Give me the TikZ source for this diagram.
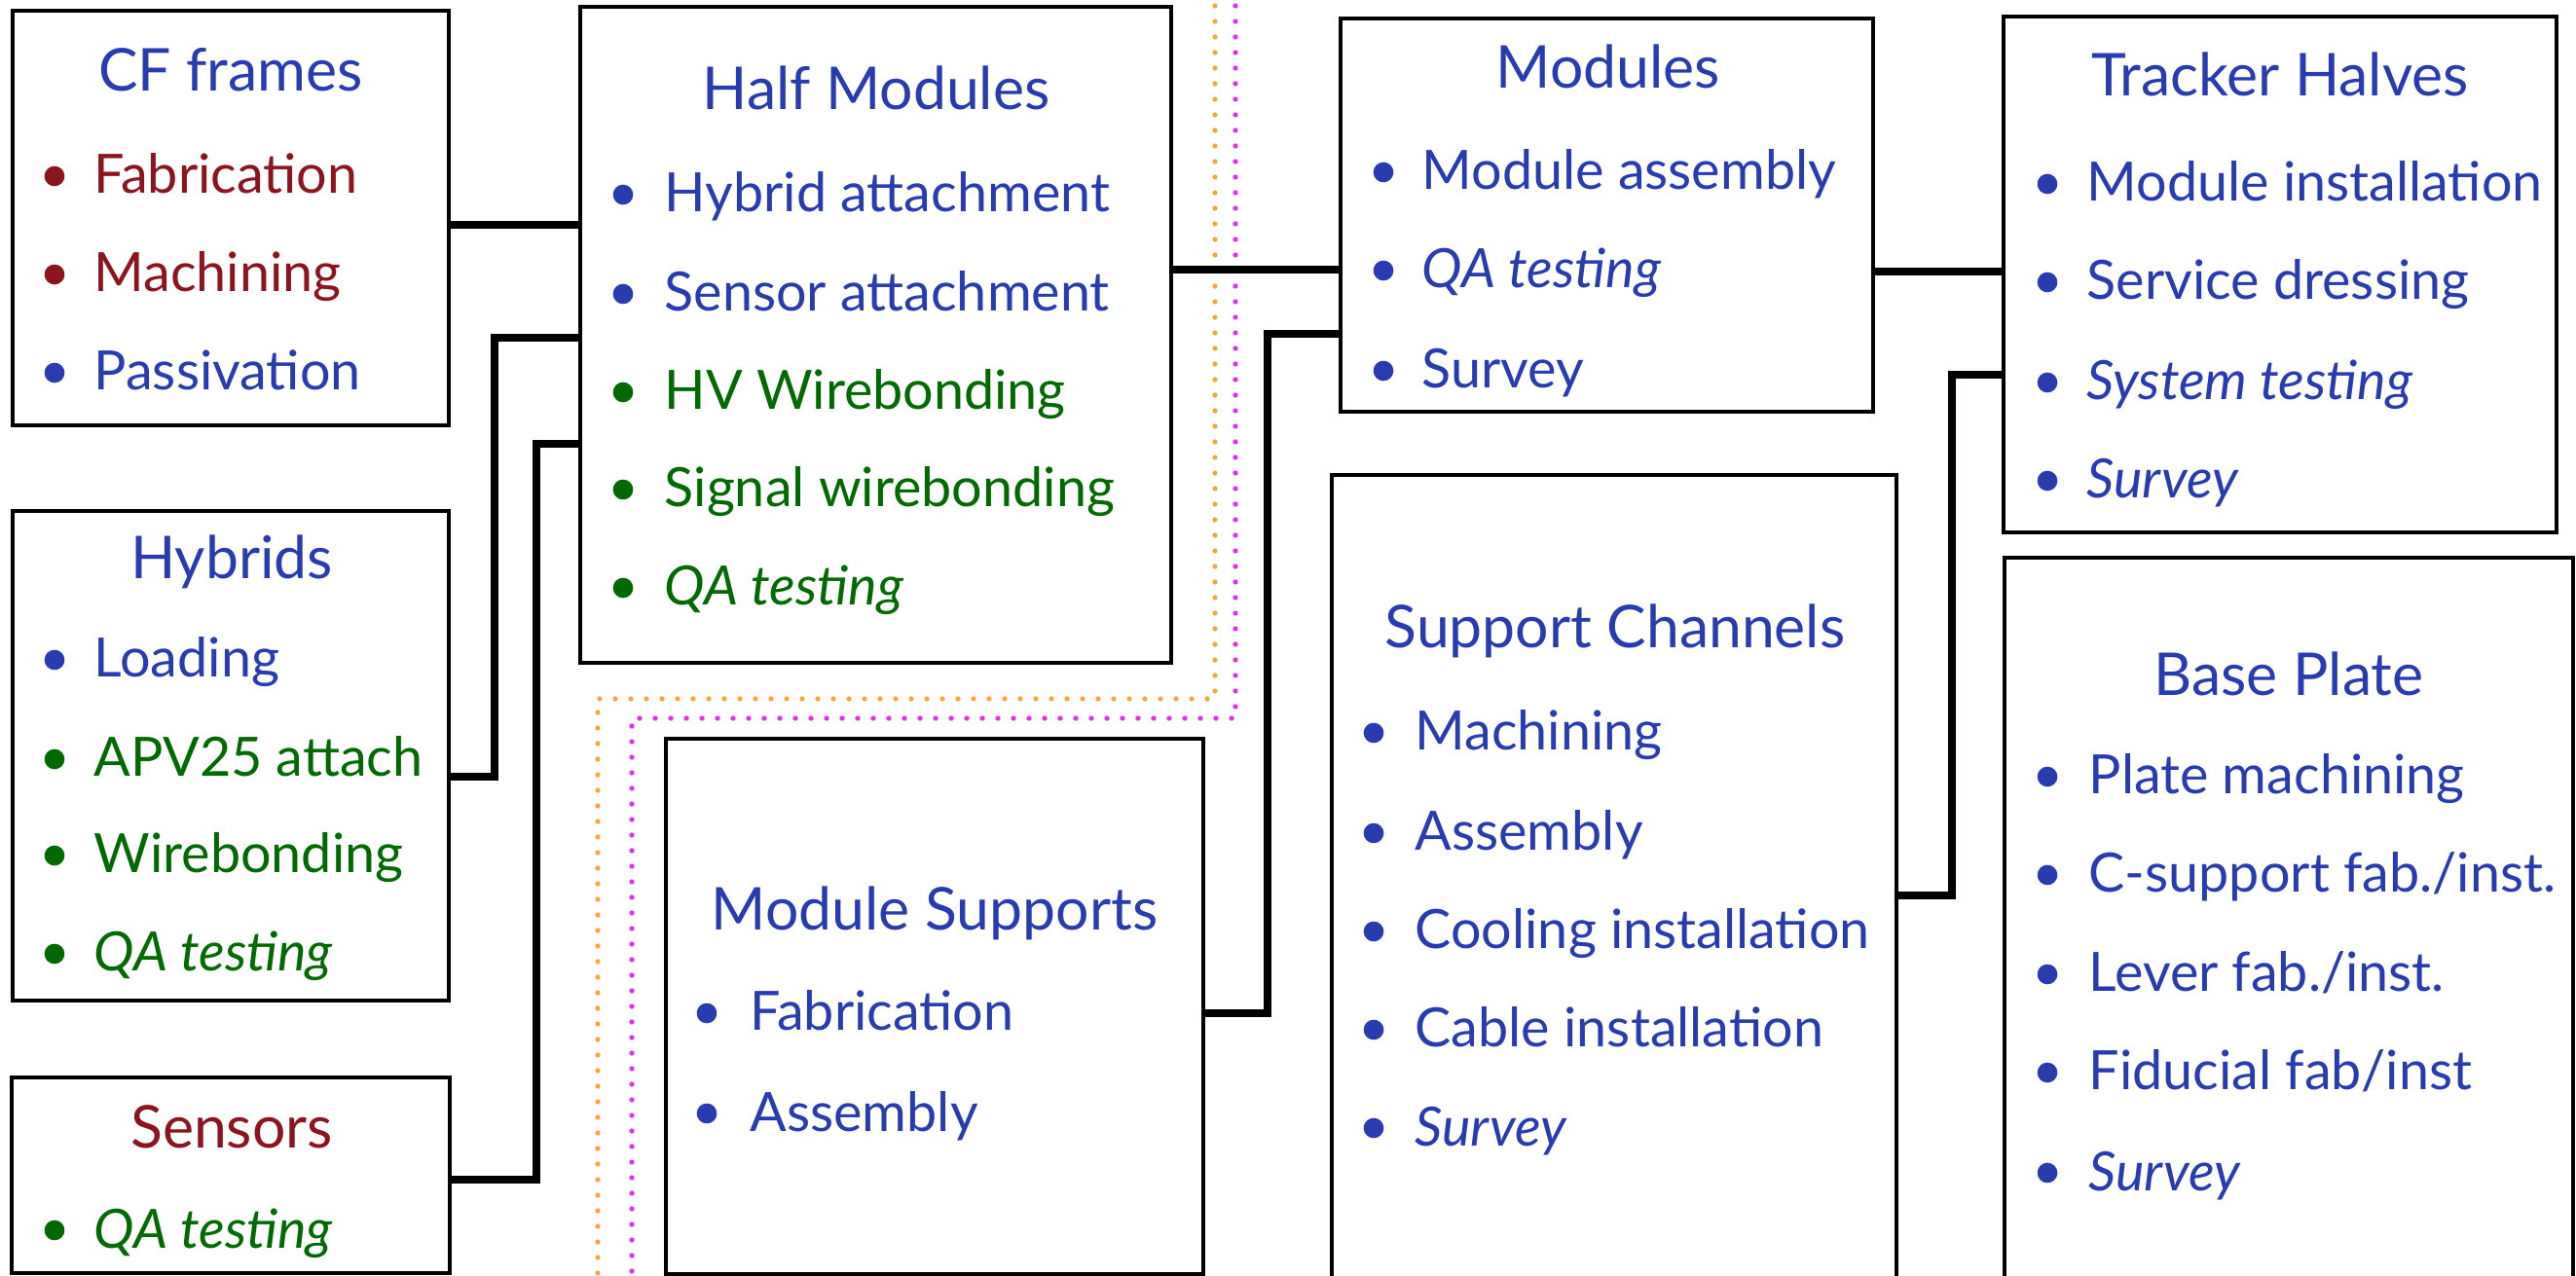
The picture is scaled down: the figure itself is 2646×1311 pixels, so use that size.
\documentclass[tikz,border=0pt]{standalone}
\usepackage{fontspec}
\setmainfont{Lato}
\usetikzlibrary{fit}
\definecolor{tblue}{RGB}{40,60,175}
\definecolor{tred}{RGB}{140,20,30}
\definecolor{tgreen}{RGB}{0,105,0}
\definecolor{dorange}{RGB}{245,166,60}
\definecolor{dmagenta}{RGB}{225,50,230}
\newcommand\bitem[6]{\fill[#5] (#2,{#4-18}) circle (3.1pt); \node[itm,text=#5] (#1) at (#3,#4) {#6};}
\begin{document}
\begin{tikzpicture}[x=0.3pt,y=-0.3pt,
 box/.style={draw=black, line width=1.4pt, inner sep=0pt},
 conn/.style={line width=2.3pt},
 ttl/.style={anchor=base, inner sep=0pt, font=\fontsize{18.2}{20}\selectfont},
 itm/.style={anchor=base west, inner sep=0pt, font=\fontsize{16.7}{19}\selectfont},
 dotline/.style={line width=1.6pt, line cap=round, dash pattern=on 0pt off 4.8pt}]
\useasboundingbox[fill=white] (0,0) rectangle (2646,1311);

% dotted boundaries
\draw[dotline, dorange] (1248,-10) -- (1248,718) -- (614,718) -- (614,1330);
\draw[dotline, dmagenta] (1269,-10) -- (1269,738) -- (649,738) -- (649,1330);

% boxes
\node[box, fit={(13,11) (461,437)}] (cf) {};
\node[box, fit={(13,525) (461,1028)}] (hyb) {};
\node[box, fit={(12,1107) (462,1308)}] (sen) {};
\node[box, fit={(596,7) (1203,681)}] (hm) {};
\node[box, fit={(1377,19) (1924,423)}] (mod) {};
\node[box, fit={(2058,17) (2626,547)}] (th) {};
\node[box, fit={(684,759) (1236,1309)}] (ms) {};
\node[box, fit={(1368,488) (1948,1340)}] (sc) {};
\node[box, fit={(2059,573) (2643,1340)}] (bp) {};

% CF frames
\node[ttl,text=tblue] (cft) at (237,94) {CF frames};
\bitem{cf1}{56}{96}{199}{tred}{Fabrication}
\bitem{cf2}{56}{96}{300}{tred}{Machining}
\bitem{cf3}{56}{96}{401}{tblue}{Passivation}

% Hybrids
\node[ttl,text=tblue] (hybt) at (238,595) {Hybrids};
\bitem{hy1}{56}{96}{696}{tblue}{Loading}
\bitem{hy2}{56}{96}{798}{tgreen}{APV25 attach}
\bitem{hy3}{56}{96}{897}{tgreen}{Wirebonding}
\bitem{hy4}{56}{96}{998}{tgreen}{\itshape QA testing}

% Sensors
\node[ttl,text=tred] (sent) at (238,1179) {Sensors};
\bitem{se1}{56}{96}{1282}{tgreen}{\itshape QA testing}

% Half Modules
\node[ttl,text=tblue] (hmt) at (900,113) {Half Modules};
\bitem{hm1}{640}{682}{218}{tblue}{Hybrid attachment}
\bitem{hm2}{640}{682}{320}{tblue}{Sensor attachment}
\bitem{hm3}{640}{682}{421}{tgreen}{HV Wirebonding}
\bitem{hm4}{640}{682}{521}{tgreen}{Signal wirebonding}
\bitem{hm5}{640}{682}{622}{tgreen}{\itshape QA testing}

% Modules
\node[ttl,text=tblue] (modt) at (1652,91) {Modules};
\bitem{mo1}{1421}{1460}{195}{tblue}{Module assembly}
\bitem{mo2}{1421}{1460}{296}{tblue}{\itshape QA testing}
\bitem{mo3}{1421}{1460}{399}{tblue}{Survey}

% Tracker Halves
\node[ttl,text=tblue] (tht) at (2342,99) {Tracker Halves};
\bitem{th1}{2103}{2143}{207}{tblue}{Module installation}
\bitem{th2}{2103}{2143}{308}{tblue}{Service dressing}
\bitem{th3}{2103}{2143}{411}{tblue}{\itshape System testing}
\bitem{th4}{2103}{2143}{512}{tblue}{\itshape Survey}

% Module Supports
\node[ttl,text=tblue] (mst) at (960,956) {Module Supports};
\bitem{ms1}{726}{770}{1059}{tblue}{Fabrication}
\bitem{ms2}{726}{770}{1162}{tblue}{Assembly}

% Support Channels
\node[ttl,text=tblue] (sct) at (1659,666) {Support Channels};
\bitem{sc1}{1411}{1453}{771}{tblue}{Machining}
\bitem{sc2}{1411}{1453}{874}{tblue}{Assembly}
\bitem{sc3}{1411}{1453}{975}{tblue}{Cooling installation}
\bitem{sc4}{1411}{1453}{1076}{tblue}{Cable installation}
\bitem{sc5}{1411}{1453}{1177}{tblue}{\itshape Survey}

% Base Plate
\node[ttl,text=tblue] (bpt) at (2351,715) {Base Plate};
\bitem{bp1}{2103}{2145}{816}{tblue}{Plate machining}
\bitem{bp2}{2103}{2145}{917}{tblue}{C-support fab./inst.}
\bitem{bp3}{2103}{2145}{1019}{tblue}{Lever fab./inst.}
\bitem{bp4}{2103}{2145}{1120}{tblue}{Fiducial fab/inst}
\bitem{bp5}{2103}{2145}{1223}{tblue}{\itshape Survey}

% connectors
\draw[conn] (cf.east |- 0,231) -- (hm.west |- 0,231);
\draw[conn] (hyb.east |- 0,798) -| (508,347) -- (hm.west |- 0,347);
\draw[conn] (sen.east |- 0,1212) -| (551,456) -- (hm.west |- 0,456);
\draw[conn] (hm.east |- 0,277) -- (mod.west |- 0,277);
\draw[conn] (ms.east |- 0,1041) -| (1302,343) -- (mod.west |- 0,343);
\draw[conn] (mod.east |- 0,279) -- (th.west |- 0,279);
\draw[conn] (sc.east |- 0,920) -| (2005,385) -- (th.west |- 0,385);
\end{tikzpicture}
\end{document}
